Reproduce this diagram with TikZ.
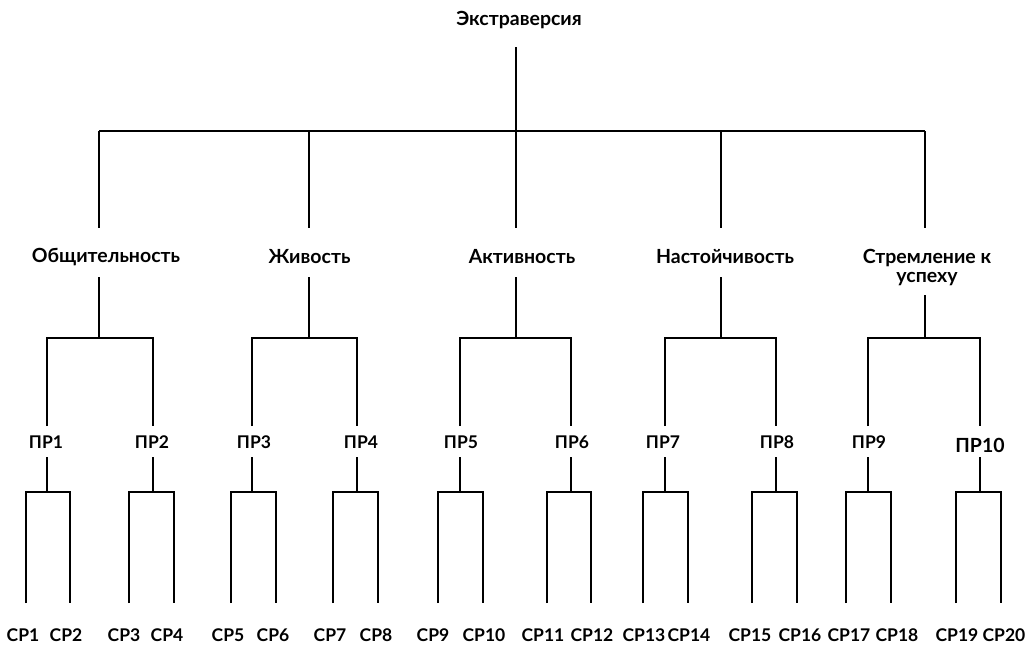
\documentclass[tikz,border=0pt]{standalone}
\usepackage{fontspec}
\setmainfont{Lato}
\tikzset{
  lbl/.style={font=\fontsize{19.5}{21}\selectfont\bfseries, inner sep=0pt, align=center},
  sml/.style={font=\fontsize{17.5}{19}\selectfont\bfseries, inner sep=0pt},
  ln/.style={line width=2.1pt, line cap=butt, line join=miter},
}
\begin{document}
\begin{tikzpicture}[x=1pt,y=-1pt]
\useasboundingbox (0,0) rectangle (1028,646);
% level 0
\node[lbl] (E) at (519,20) {Экстраверсия};
\coordinate (Et) at (516,47);
\coordinate (Eb) at (516,131);
\draw[ln] (Et) -- (Eb);
\coordinate (bL) at (99,131);
\coordinate (bR) at (925,131);
\draw[ln] (bL) -- (bR);
% level 1 labels
\node[lbl] (L1) at (106,257) {Общительность};
\node[lbl] (L2) at (309.5,257) {Живость};
\node[lbl] (L3) at (522,257) {Активность};
\node[lbl] (L4) at (725,257) {Настойчивость};
\node[lbl] (L5) at (927,267) {Стремление к\\[-2pt]успеху};
% stubs from bar to level 1
\foreach \x/\n in {99/1,309/2,516/3,721/4,925/5}{
  \coordinate (u\n t) at (\x,131);
  \coordinate (u\n b) at (\x,228);
  \draw[ln] (u\n t) -- (u\n b);
}
% lines below level 1 to group bars
\foreach \x/\n/\s in {99/1/277,309/2/277,516/3/277,721/4/277,925/5/295}{
  \coordinate (d\n t) at (\x,\s);
  \coordinate (d\n b) at (\x,338);
  \draw[ln] (d\n t) -- (d\n b);
}
% group bars and verticals to ПР
\foreach \a/\b/\n in {47/153/1,252/357/2,460/571/3,665/776/4,868/980/5}{
  \coordinate (g\n l) at (\a,338);
  \coordinate (g\n r) at (\b,338);
  \draw[ln] (\a,426) -- (g\n l) -- (g\n r) -- (\b,426);
}
% ПР labels
\node[sml] (P1) at (46,442) {ПР1};
\node[sml] (P2) at (152,442) {ПР2};
\node[sml] (P3) at (254,442) {ПР3};
\node[sml] (P4) at (361,442) {ПР4};
\node[sml] (P5) at (461,442) {ПР5};
\node[sml] (P6) at (572,442) {ПР6};
\node[sml] (P7) at (663,442) {ПР7};
\node[sml] (P8) at (777,442) {ПР8};
\node[sml] (P9) at (869,442) {ПР9};
\node[sml,font=\fontsize{19.5}{21}\selectfont\bfseries] (P10) at (980,445) {ПР10};
% lower forks
\foreach \x/\a/\b/\n in {47/26/70/1,153/129/174/2,252/231/276/3,357/333/378/4,460/438/483/5,571/547/591/6,665/643/688/7,776/752/797/8,868/846/891/9,980/956/1001/10}{
  \coordinate (f\n t) at (\x,457);
  \coordinate (f\n m) at (\x,492);
  \coordinate (f\n l) at (\a,492);
  \coordinate (f\n r) at (\b,492);
  \draw[ln] (f\n t) -- (f\n m);
  \draw[ln] (\a,603) -- (f\n l) -- (f\n r) -- (\b,603);
}
% CP labels
\foreach \x/\t in {23/1,66/2,124/3,167/4,228/5,273/6,330/7,376/8,433/9,484/10,543/11,592/12,644/13,689/14,750/15,800/16,849/17,897/18,957/19,1004/20}{
  \node[sml] (C\t) at (\x,635) {СР\t};
}
\end{tikzpicture}
\end{document}
